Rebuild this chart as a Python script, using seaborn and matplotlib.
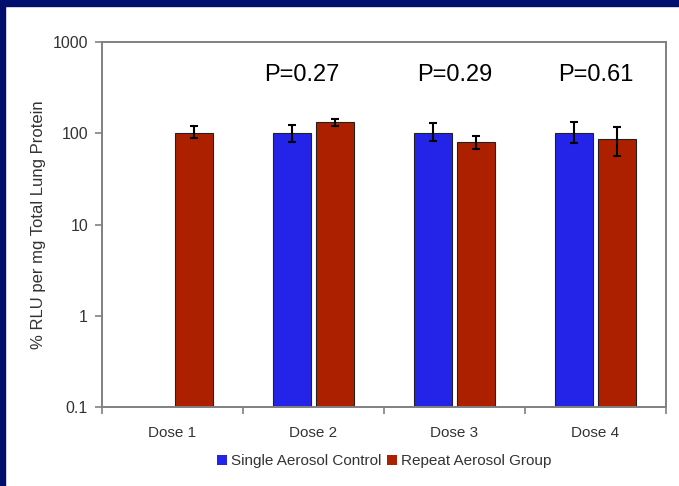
import numpy as np
import pandas as pd
import matplotlib
matplotlib.use("Agg")
import matplotlib.pyplot as plt
from matplotlib.patches import Rectangle
from matplotlib.container import BarContainer
from matplotlib.ticker import FixedLocator, NullLocator
import seaborn as sns

# ---- data ----
doses = ["Dose 1", "Dose 2", "Dose 3", "Dose 4"]
groups = ["Single Aerosol Control", "Repeat Aerosol Group"]
single_mean = [np.nan, 100, 100, 100]
single_low = [np.nan, 81, 82, 78]
single_high = [np.nan, 122, 128, 132]
repeat_mean = [100, 132, 80, 86]
repeat_low = [88, 120, 67, 56]
repeat_high = [121, 145, 93, 116]
p_labels = ["", "P=0.27", "P=0.29", "P=0.61"]
y_ticks = [0.1, 1, 10, 100, 1000]
y_tick_labels = ["0.1", "1", "10", "100", "1000"]

rows = []
for i, d in enumerate(doses):
    rows.append((d, groups[0], single_mean[i], single_low[i], single_high[i]))
    rows.append((d, groups[1], repeat_mean[i], repeat_low[i], repeat_high[i]))
df = pd.DataFrame(rows, columns=["dose", "group", "value", "low", "high"]).dropna()

sns.set_theme(style="white")
plt.rcParams["font.family"] = ["Liberation Sans", "DejaVu Sans"]

navy = "#000E6E"
blue = "#2424E8"
red = "#AC2000"
grey = "#808080"
txt = "#333333"

fig = plt.figure(figsize=(6.79, 4.86), dpi=100)
fig.patch.set_facecolor("white")
fig.patches.append(Rectangle((0, 1 - 6 / 486), 1, 6 / 486, transform=fig.transFigure,
                             color=navy, zorder=-10))
fig.patches.append(Rectangle((0, 0), 5 / 679, 1, transform=fig.transFigure,
                             color=navy, zorder=-10))

ax = fig.add_axes([102 / 679, 1 - 407 / 486, (666 - 102) / 679, (407 - 42) / 486])
ax.set_yscale("log")

sns.barplot(data=df, x="dose", y="value", hue="group", order=doses, hue_order=groups,
            palette=[blue, red], width=0.6, gap=0.1, errorbar=None,
            edgecolor="#222222", linewidth=0.8, saturation=1, ax=ax)

# error bars at the bar positions produced by seaborn
indexed = df.set_index(["dose", "group"])
bars = [b for c in list(ax.containers) if isinstance(c, BarContainer) for b in c
        if b is not None]
for bar in bars:
    xc = bar.get_x() + bar.get_width() / 2
    idx = int(round(xc))
    grp = groups[0] if xc < idx else groups[1]
    r = indexed.loc[(doses[idx], grp)]
    ax.errorbar(xc, r["value"], yerr=[[r["value"] - r["low"]], [r["high"] - r["value"]]],
                fmt="none", ecolor="black", elinewidth=1.5, capsize=3.2, capthick=1.5,
                zorder=5)

ax.set_ylim(0.1, 1000)
ax.set_xlim(-0.5, 3.5)
ax.yaxis.set_major_locator(FixedLocator(y_ticks))
ax.yaxis.set_minor_locator(NullLocator())
ax.set_yticklabels(y_tick_labels)
ax.set_xticks(range(len(doses)))
ax.set_xticklabels(doses)
ax.set_xticks([-0.5, 0.5, 1.5, 2.5, 3.5], minor=True)
ax.tick_params(axis="x", which="major", length=0, pad=14, labelsize=11, labelcolor=txt)
ax.tick_params(axis="x", which="minor", length=5, width=1.2, color=grey, direction="out",
               bottom=True)
ax.tick_params(axis="y", which="major", length=5, width=1.2, color=grey, direction="out",
               left=True, pad=5, labelsize=11.5, labelcolor=txt)
for s in ax.spines.values():
    s.set_visible(True)
    s.set_color(grey)
    s.set_linewidth(1.4)

ax.set_xlabel("")
ax.set_ylabel("% RLU per mg Total Lung Protein", fontsize=12, color=txt, labelpad=5)

p_offsets = [0, -0.08, 0, 0]
for i, lab in enumerate(p_labels):
    if lab:
        ax.text(i + p_offsets[i], 430, lab, ha="center", va="center", fontsize=17,
                color="black")

handles, labels = ax.get_legend_handles_labels()
if ax.get_legend() is not None:
    ax.get_legend().remove()
for h in handles:
    h.set_edgecolor("none")
fig.legend(handles, labels, loc="center", bbox_to_anchor=(384 / 679, 1 - 461 / 486),
           ncol=2, frameon=False, fontsize=11, handlelength=0.65, handleheight=0.65,
           handletextpad=0.25, columnspacing=0.4, labelcolor=txt, borderpad=0)

fig.savefig("out.png", dpi=100, facecolor="white")
